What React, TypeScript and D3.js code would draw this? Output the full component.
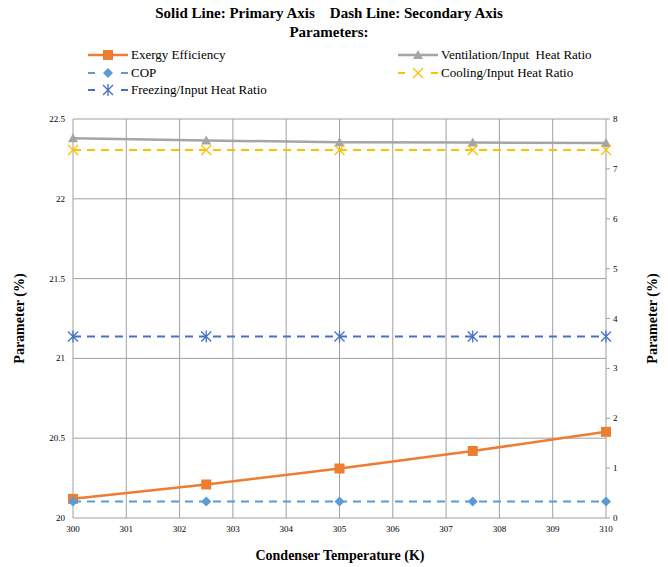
import React from 'react';
import * as d3 from 'd3';

const W = 668;
const H = 567;

const temps = [300, 302.5, 305, 307.5, 310];
const exergy = [20.12, 20.21, 20.31, 20.42, 20.54];
const ventilation = [22.38, 22.365, 22.355, 22.352, 22.35];
const cop = [0.33, 0.33, 0.33, 0.33, 0.33];
const cooling = [7.38, 7.38, 7.38, 7.38, 7.38];
const freezing = [3.64, 3.64, 3.64, 3.64, 3.64];

const xTicks = [300, 301, 302, 303, 304, 305, 306, 307, 308, 309, 310];
const leftTicks = [20, 20.5, 21, 21.5, 22, 22.5];
const rightTicks = [0, 1, 2, 3, 4, 5, 6, 7, 8];

const ORANGE = '#ED7D31';
const GRAY = '#A5A5A5';
const LBLUE = '#5B9BD5';
const YELLOW = '#FFC000';
const DBLUE = '#4472C4';
const GRID = '#9f9f9f';
const FONT = "'Liberation Serif', 'DejaVu Serif', serif";

const plot = { left: 73, right: 606, top: 119, bottom: 518 };

const Marker = ({ kind, x, y, color }: { kind: string; x: number; y: number; color: string }) => {
  if (kind === 'square') return <rect x={x - 5} y={y - 5} width={10} height={10} fill={color} />;
  if (kind === 'triangle') return <path d={`M${x},${y - 5}L${x + 5},${y + 4}L${x - 5},${y + 4}Z`} fill={color} />;
  if (kind === 'diamond') return <path d={`M${x},${y - 5}L${x + 5},${y}L${x},${y + 5}L${x - 5},${y}Z`} fill={color} />;
  if (kind === 'x') return (
    <path d={`M${x - 5},${y - 5}L${x + 5},${y + 5}M${x + 5},${y - 5}L${x - 5},${y + 5}`} stroke={color} strokeWidth={1.3} />
  );
  return (
    <path d={`M${x - 5},${y - 5}L${x + 5},${y + 5}M${x + 5},${y - 5}L${x - 5},${y + 5}M${x},${y - 6}L${x},${y + 6}`} stroke={color} strokeWidth={1.3} />
  );
};

const series = [
  { name: 'Exergy Efficiency', data: exergy, axis: 'left', color: ORANGE, dash: false, marker: 'square' },
  { name: 'Ventilation/Input  Heat Ratio', data: ventilation, axis: 'left', color: GRAY, dash: false, marker: 'triangle' },
  { name: 'COP', data: cop, axis: 'right', color: LBLUE, dash: true, marker: 'diamond' },
  { name: 'Cooling/Input Heat Ratio', data: cooling, axis: 'right', color: YELLOW, dash: true, marker: 'x' },
  { name: 'Freezing/Input Heat Ratio', data: freezing, axis: 'right', color: DBLUE, dash: true, marker: 'star' },
];

const legendPos = [
  { x: 88, y: 55 },
  { x: 398, y: 55 },
  { x: 88, y: 73 },
  { x: 398, y: 73 },
  { x: 88, y: 90 },
];

export default function App() {
  const x = d3.scaleLinear().domain([300, 310]).range([plot.left, plot.right]);
  const yL = d3.scaleLinear().domain([20, 22.5]).range([plot.bottom, plot.top]);
  const yR = d3.scaleLinear().domain([0, 8]).range([plot.bottom, plot.top]);

  return (
    <svg width={W} height={H} style={{ position: 'absolute', left: 0, top: 0, background: '#fff', fontFamily: FONT }}>
      <text x={329} y={18} textAnchor="middle" fontSize={15} fontWeight="bold" fill="#000" style={{ whiteSpace: 'pre' }}>
        {'Solid Line: Primary Axis    Dash Line: Secondary Axis'}
      </text>
      <text x={329} y={37} textAnchor="middle" fontSize={15} fontWeight="bold" fill="#000">Parameters:</text>

      {/* grid */}
      {xTicks.map(t => (
        <line key={'v' + t} x1={x(t)} x2={x(t)} y1={plot.top} y2={plot.bottom} stroke={GRID} strokeWidth={1} />
      ))}
      {leftTicks.map(t => (
        <line key={'h' + t} x1={plot.left} x2={plot.right} y1={yL(t)} y2={yL(t)} stroke={GRID} strokeWidth={1} />
      ))}
      {rightTicks.map(t => (
        <line key={'rt' + t} x1={plot.right} x2={plot.right + 4} y1={yR(t)} y2={yR(t)} stroke={GRID} strokeWidth={1} />
      ))}

      {/* tick labels */}
      {leftTicks.map(t => (
        <text key={'lt' + t} x={plot.left - 8} y={yL(t) + 3} textAnchor="end" fontSize={9} fill="#000">{d3.format('')(t)}</text>
      ))}
      {rightTicks.map(t => (
        <text key={'rl' + t} x={plot.right + 7} y={yR(t) + 3} fontSize={9} fill="#000">{t}</text>
      ))}
      {xTicks.map(t => (
        <text key={'xl' + t} x={x(t)} y={plot.bottom + 14} textAnchor="middle" fontSize={9} fill="#000">{t}</text>
      ))}

      {/* series */}
      {series.map(s => {
        const yS = s.axis === 'left' ? yL : yR;
        const line = d3.line<number>().x((_, i) => x(temps[i])).y(d => yS(d));
        return (
          <g key={s.name}>
            <path d={line(s.data) || ''} fill="none" stroke={s.color} strokeWidth={s.dash ? 2 : 2.5}
              strokeDasharray={s.dash ? '8,6' : undefined} />
            {s.data.map((d, i) => (
              <Marker key={i} kind={s.marker} x={x(temps[i])} y={yS(d)} color={s.color} />
            ))}
          </g>
        );
      })}

      {/* legend */}
      {series.map((s, i) => {
        const p = legendPos[i];
        return (
          <g key={'lg' + s.name}>
            {s.dash ? (
              <>
                <line x1={p.x} x2={p.x + 7} y1={p.y} y2={p.y} stroke={s.color} strokeWidth={2} />
                <line x1={p.x + 33} x2={p.x + 40} y1={p.y} y2={p.y} stroke={s.color} strokeWidth={2} />
              </>
            ) : (
              <line x1={p.x} x2={p.x + 40} y1={p.y} y2={p.y} stroke={s.color} strokeWidth={2.5} />
            )}
            <Marker kind={s.marker} x={p.x + 20} y={p.y} color={s.color} />
            <text x={p.x + 43} y={p.y + 4} fontSize={13} fill="#000" style={{ whiteSpace: 'pre' }}>{s.name}</text>
          </g>
        );
      })}

      {/* axis titles */}
      <text transform={`translate(24,${(plot.top + plot.bottom) / 2}) rotate(-90)`} textAnchor="middle" fontSize={14} fontWeight="bold" fill="#000">Parameter (%)</text>
      <text transform={`translate(657,${(plot.top + plot.bottom) / 2}) rotate(-90)`} textAnchor="middle" fontSize={14} fontWeight="bold" fill="#000">Parameter (%)</text>
      <text x={340} y={560} textAnchor="middle" fontSize={14} fontWeight="bold" fill="#000">Condenser Temperature (K)</text>
    </svg>
  );
}
